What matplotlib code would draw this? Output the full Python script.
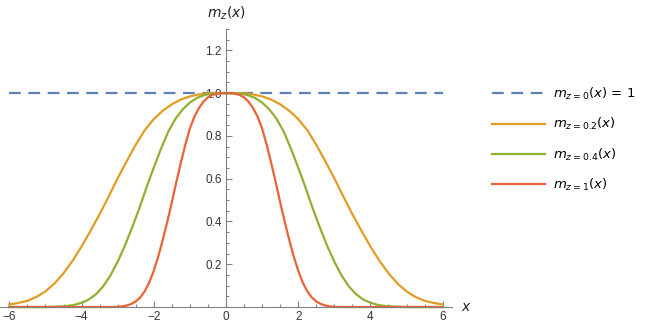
import numpy as np
import matplotlib.pyplot as plt
from matplotlib.ticker import MultipleLocator, FixedLocator

# z = 0 : constant line
x_z0 = [-6, 6]
m_z0 = [1.0, 1.0]

# z = 0.2 (x step 0.25)
x_z02 = np.arange(-6, 6.001, 0.25)
m_z02 = [0.012, 0.019, 0.029, 0.047, 0.073, 0.11, 0.158, 0.216, 0.283, 0.357, 0.434, 0.517,
         0.602, 0.682, 0.759, 0.827, 0.879, 0.918, 0.948, 0.97, 0.985, 0.994, 0.999, 1.0,
         1.0,
         1.0, 0.999, 0.994, 0.985, 0.97, 0.948, 0.918, 0.879, 0.827, 0.759, 0.682, 0.602,
         0.517, 0.434, 0.357, 0.283, 0.216, 0.158, 0.11, 0.073, 0.047, 0.029, 0.019, 0.012]

# z = 0.4 (x step 0.2)
x_z04 = np.arange(-6, 6.001, 0.2)
m_z04 = [0.0, 0.0, 0.0, 0.0, 0.0, 0.0,
         0.001, 0.002, 0.005, 0.01, 0.02, 0.035, 0.06, 0.097, 0.148, 0.212, 0.287,
         0.372, 0.462, 0.56, 0.652, 0.74, 0.82, 0.88, 0.924, 0.956, 0.978, 0.991, 0.998, 1.0,
         1.0,
         1.0, 0.998, 0.991, 0.978, 0.956, 0.924, 0.88, 0.82, 0.74, 0.652, 0.56, 0.462,
         0.372, 0.287, 0.212, 0.148, 0.097, 0.06, 0.035, 0.02, 0.01, 0.005, 0.002, 0.001,
         0.0, 0.0, 0.0, 0.0, 0.0, 0.0]

# z = 1 (x step 0.125 around the bump, flat zero outside)
x_z1 = [-6.0] + list(np.arange(-3.25, 3.251, 0.125)) + [6.0]
m_z1 = [0.0,
        0.0, 0.0, 0.001, 0.003, 0.007, 0.014, 0.026, 0.045, 0.074, 0.115, 0.17, 0.237, 0.315,
        0.40, 0.49, 0.585, 0.675, 0.76, 0.835, 0.89, 0.93, 0.96, 0.98, 0.992, 0.998, 1.0,
        1.0,
        1.0, 0.998, 0.992, 0.98, 0.96, 0.93, 0.89, 0.835, 0.76, 0.675, 0.585, 0.49,
        0.40, 0.315, 0.237, 0.17, 0.115, 0.074, 0.045, 0.026, 0.014, 0.007, 0.003, 0.001, 0.0, 0.0,
        0.0]

labels = [r'$m_{z=0}(x)$ = 1', r'$m_{z=0.2}(x)$', r'$m_{z=0.4}(x)$', r'$m_{z=1}(x)$']
colors = ['#5E81B5', '#E19C24', '#8FB131', '#EB6235']

fig = plt.figure(figsize=(6.45, 3.27), dpi=100)
ax = fig.add_axes([0, 20 / 327, 452 / 645, 278 / 327])

ax.plot(x_z0, m_z0, color=colors[0], lw=1.6, dashes=(5.3, 3.4), label=labels[0], clip_on=False)
ax.plot(x_z02, m_z02, color=colors[1], lw=1.6, label=labels[1], clip_on=False)
ax.plot(x_z04, m_z04, color=colors[2], lw=1.6, label=labels[2], clip_on=False)
ax.plot(x_z1, m_z1, color=colors[3], lw=1.6, label=labels[3], clip_on=False)

ax.set_xlim(-6.26, 6.26)
ax.set_ylim(0, 1.3)

# Mathematica style axes crossing at the origin
for s in ['top', 'right']:
    ax.spines[s].set_visible(False)
ax.spines['left'].set_position(('data', 0))
ax.spines['bottom'].set_position(('data', 0))
for s in ['left', 'bottom']:
    ax.spines[s].set_color('#808080')
    ax.spines[s].set_linewidth(0.8)

ax.xaxis.set_major_locator(MultipleLocator(2))
ax.xaxis.set_minor_locator(MultipleLocator(0.5))
ax.yaxis.set_major_locator(FixedLocator([0.2, 0.4, 0.6, 0.8, 1.0, 1.2]))
ax.yaxis.set_minor_locator(MultipleLocator(0.05))
ax.yaxis.set_major_formatter(plt.FormatStrFormatter('%.1f'))

ax.tick_params(which='both', direction='in', color='#808080', width=0.8,
               labelsize=8.5, labelcolor='#333333', pad=3)
ax.tick_params(which='major', length=4)
ax.tick_params(which='minor', length=2.2)
for lab in ax.get_xticklabels() + ax.get_yticklabels():
    lab.set_fontfamily('Liberation Sans')

ax.text(6.5, 0.0, '$x$', fontsize=10, ha='left', va='center', color='#222222')
ax.text(0, 1.375, '$m_z(x)$', fontsize=10, ha='center', va='center', color='#222222')

fig.legend(loc='upper left', bbox_to_anchor=(492 / 645, 1 - 86 / 327), frameon=False,
           fontsize=9.5, handlelength=4.0, handletextpad=0.6, labelspacing=1.07,
           borderpad=0, borderaxespad=0)

fig.savefig('out.png', dpi=100)
